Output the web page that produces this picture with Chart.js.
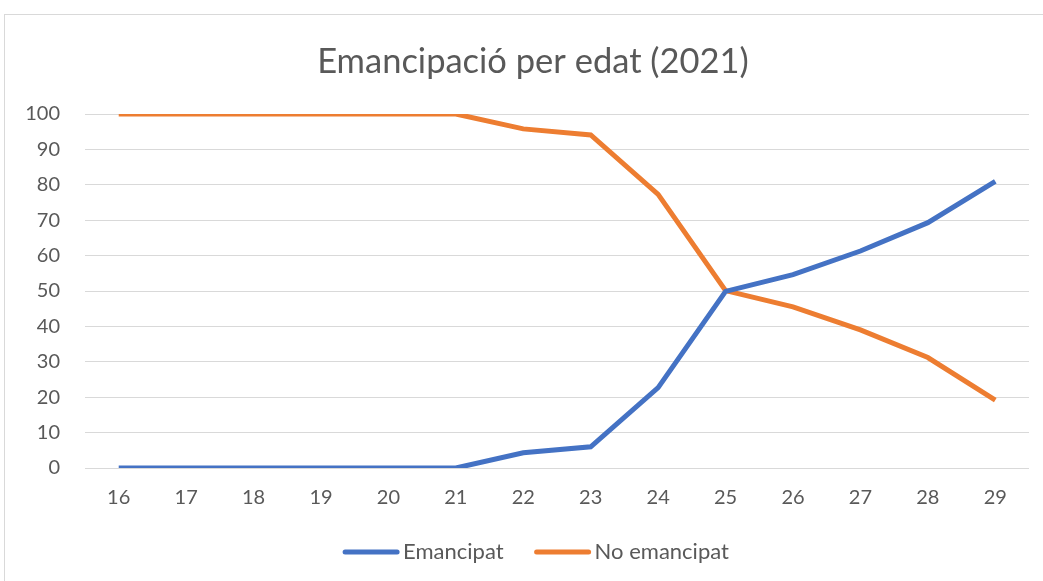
<!DOCTYPE html>
<html>
<head>
<meta charset="utf-8">
<script src="https://cdn.jsdelivr.net/npm/chart.js@4/dist/chart.umd.min.js"></script>
<style>
  html, body { margin: 0; padding: 0; background: #fff; }
  #wrap { position: relative; width: 1043px; height: 581px; }
  #frame { position: absolute; left: 4px; top: 14px; width: 1060px; height: 600px;
           border: 1px solid #d9d9d9; box-sizing: border-box; }
  canvas { position: absolute; left: 0; top: 0; }
</style>
</head>
<body>
<div id="wrap">
  <div id="frame"></div>
  <canvas id="myChart" width="1043" height="581"></canvas>
</div>
<script>
var ages = ["16", "17", "18", "19", "20", "21", "22", "23", "24", "25", "26", "27", "28", "29"];
var emancipat = [0, 0, 0, 0, 0, 0, 4.3, 6.0, 22.7, 49.9, 54.6, 61.3, 69.3, 81.0];
var noEmancipat = [100, 100, 100, 100, 100, 100, 95.8, 94.1, 77.3, 50.1, 45.5, 39.0, 31.2, 19.2];
var yTicks = [0, 10, 20, 30, 40, 50, 60, 70, 80, 90, 100];
var chartTitle = "Emancipació per edat (2021)";

var textColor = "#595959";
var fontFamily = "Lato, 'Open Sans', sans-serif";

// title and legend drawn by hand so they centre on the chart frame (which runs past the window)
var frameText = {
    id: "frameText",
    afterDraw: function (chart) {
        var c = chart.ctx;
        c.save();
        c.fillStyle = textColor;
        c.textBaseline = "middle";

        c.font = "34.5px " + fontFamily;
        c.textAlign = "center";
        c.fillText(chartTitle, 533, 62);

        var lineLen = 56, gap = 4, itemGap = 31, cy = 552;
        c.font = "22px " + fontFamily;
        var items = chart.data.datasets.map(function (ds) {
            return { ds: ds, w: c.measureText(ds.label).width };
        });
        var total = 0;
        items.forEach(function (it, i) {
            total += lineLen + gap + it.w + (i > 0 ? itemGap : 0);
        });
        var x = 536 - total / 2;
        c.textAlign = "left";
        items.forEach(function (it) {
            c.strokeStyle = it.ds.borderColor;
            c.lineWidth = 5;
            c.lineCap = "round";
            c.beginPath();
            c.moveTo(x + 2, cy);
            c.lineTo(x + lineLen - 2, cy);
            c.stroke();
            c.fillText(it.ds.label, x + lineLen + gap, cy);
            x += lineLen + gap + it.w + itemGap;
        });
        c.restore();
    },
};

var ctx = document.getElementById("myChart").getContext("2d");

var myChart = new Chart(ctx, {
    type: "line",
    data: {
        labels: ages,
        datasets: [
            {
                label: "Emancipat",
                data: emancipat,
                borderColor: "#4472C4",
                backgroundColor: "#4472C4",
                borderWidth: 5,
                pointRadius: 0,
                tension: 0,
            },
            {
                label: "No emancipat",
                data: noEmancipat,
                borderColor: "#ED7D31",
                backgroundColor: "#ED7D31",
                borderWidth: 5,
                pointRadius: 0,
                tension: 0,
            },
        ],
    },
    plugins: [frameText],
    options: {
        responsive: false,
        animation: false,
        layout: {
            padding: { left: 15, right: 14, top: 114, bottom: 53 },
        },
        plugins: {
            title: { display: false },
            legend: { display: false },
            tooltip: { enabled: false },
        },
        scales: {
            x: {
                offset: true,
                grid: { display: false, drawTicks: false },
                border: { display: false },
                ticks: {
                    color: textColor,
                    font: { family: fontFamily, size: 20 },
                    padding: 18,
                    maxRotation: 0,
                },
                afterFit: function (scale) {
                    scale.height = 60;
                },
            },
            y: {
                min: 0,
                max: 100,
                afterBuildTicks: function (scale) {
                    scale.ticks = yTicks.map(function (v) { return { value: v }; });
                },
                grid: { color: "#d9d9d9", lineWidth: 1, drawTicks: false },
                border: { display: false },
                ticks: {
                    color: textColor,
                    font: { family: fontFamily, size: 20 },
                    padding: 25,
                },
                afterFit: function (scale) {
                    scale.width = 70;
                },
            },
        },
    },
});
</script>
</body>
</html>
